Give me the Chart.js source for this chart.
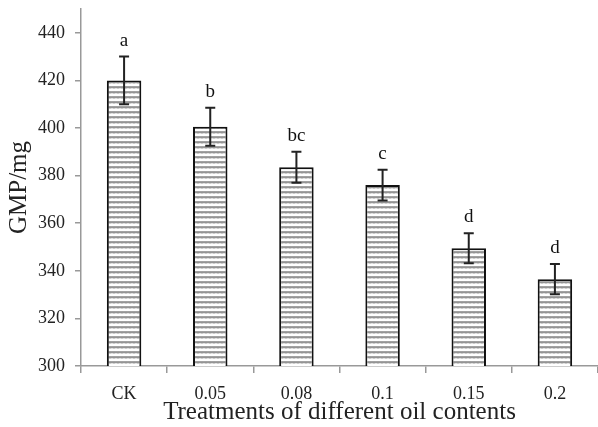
<!DOCTYPE html>
<html>
<head>
<meta charset="utf-8">
<script src="https://cdn.jsdelivr.net/npm/chart.js@4/dist/chart.umd.min.js"></script>
<style>
  html, body { margin: 0; padding: 0; background: #fff; }
  #wrap { width: 598px; height: 427px; }
</style>
</head>
<body>
<div id="wrap"><canvas id="c"></canvas></div>
<script>
// data
const treatments = ['CK', '0.05', '0.08', '0.1', '0.15', '0.2'];
const gmp = [420, 400.5, 383.5, 376, 349.5, 336.5];
const errs = [10, 8, 6.5, 6.5, 6.3, 6.4];
const letters = ['a', 'b', 'bc', 'c', 'd', 'd'];

const serif = '"Liberation Serif", "DejaVu Serif", serif';

// small wavy hatch used by the bars
function makeHatch() {
  const p = document.createElement('canvas');
  p.width = 4; p.height = 5;
  const g = p.getContext('2d');
  g.fillStyle = '#fff';
  g.fillRect(0, 0, 4, 5);
  g.strokeStyle = '#8a8a8a';
  g.lineWidth = 1;
  g.beginPath();
  g.moveTo(0, 3.5);
  g.lineTo(1, 1);
  g.lineTo(2, 3.5);
  g.lineTo(3, 1);
  g.lineTo(4, 3.5);
  g.stroke();
  return g.createPattern(p, 'repeat');
}

const errorBars = {
  id: 'errorBars',
  afterDatasetsDraw(chart) {
    const ctx = chart.ctx;
    const meta = chart.getDatasetMeta(0);
    const y = chart.scales.y;
    ctx.save();
    ctx.strokeStyle = '#222';
    ctx.lineWidth = 2;
    ctx.fillStyle = '#111';
    ctx.font = '19px ' + serif;
    ctx.textAlign = 'center';
    ctx.textBaseline = 'alphabetic';
    meta.data.forEach((bar, i) => {
      const x = bar.x;
      const top = y.getPixelForValue(gmp[i] + errs[i]);
      const bot = y.getPixelForValue(gmp[i] - errs[i]);
      ctx.beginPath();
      ctx.moveTo(x, top); ctx.lineTo(x, bot);
      ctx.moveTo(x - 5, top); ctx.lineTo(x + 5, top);
      ctx.moveTo(x - 5, bot); ctx.lineTo(x + 5, bot);
      ctx.stroke();
      ctx.fillText(letters[i], x, top - 11);
    });
    ctx.restore();
  }
};

new Chart(document.getElementById('c'), {
  type: 'bar',
  data: {
    labels: treatments,
    datasets: [{
      data: gmp,
      backgroundColor: makeHatch(),
      borderColor: '#111',
      borderWidth: 2,
      categoryPercentage: 1,
      barPercentage: 0.4
    }]
  },
  options: {
    responsive: true,
    maintainAspectRatio: false,
    animation: false,
    layout: { padding: { top: 9, right: 0, bottom: 0, left: 0 } },
    plugins: { legend: { display: false }, tooltip: { enabled: false } },
    scales: {
      x: {
        afterFit(scale) {
          scale.height = 61;
          scale.paddingLeft = 0;
          scale.paddingRight = 0;
        },
        grid: { drawOnChartArea: false, color: '#999', tickLength: 7, offset: true, lineWidth: 1.5 },
        border: { color: '#999', width: 1.5 },
        ticks: { color: '#222', font: { family: serif, size: 18 }, padding: 10 },
        title: { display: true, text: 'Treatments of different oil contents', color: '#222',
                 font: { family: serif, size: 25 }, padding: { top: -5, bottom: 0 } }
      },
      y: {
        min: 300,
        max: 450,
        afterFit(scale) {
          scale.width = 81;
          scale.paddingTop = 0;
          scale.paddingBottom = 0;
        },
        afterBuildTicks(scale) {
          scale.ticks = scale.ticks.filter(t => t.value % 20 === 0);
        },
        ticks: { stepSize: 10, color: '#222', font: { family: serif, size: 18 }, padding: 10 },
        grid: { drawOnChartArea: false, color: '#999', tickLength: 6, lineWidth: 1.5 },
        border: { color: '#999', width: 1.5 },
        title: { display: true, text: 'GMP/mg', color: '#222',
                 font: { family: serif, size: 25 }, padding: { top: 4, bottom: 0 } }
      }
    }
  },
  plugins: [errorBars]
});
</script>
</body>
</html>
